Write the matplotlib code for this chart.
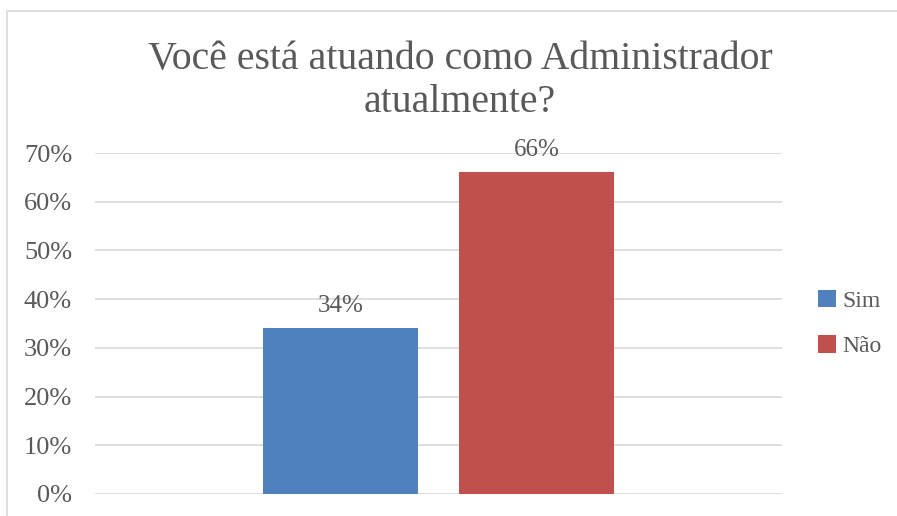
import matplotlib
matplotlib.use("Agg")
import matplotlib.pyplot as plt
from matplotlib.patches import Rectangle, Patch
from matplotlib.ticker import FuncFormatter, MultipleLocator

title = "Você está atuando como Administrador\natualmente?"
series = ["Sim", "Não"]
values = [0.34, 0.66]
colors = ["#4F81BD", "#C0504D"]
positions = [0.357, 0.643]

FONT = "Liberation Serif"
TXT = "#595959"
W, H = 897, 516
fig = plt.figure(figsize=(W / 100, H / 100), dpi=100)

# chart border (cropped on right/bottom)
fig.patches.append(Rectangle((7 / W, -0.1), 2.0, (H - 11) / H + 0.1,
                             transform=fig.transFigure, fill=False,
                             edgecolor="#D9D9D9", linewidth=1.2))

ax = fig.add_axes([95 / W, 22 / H, 687 / W, (494 - 153) / H])
for p, v, c, s in zip(positions, values, colors, series):
    ax.bar(p, v, width=0.2256, color=c, label=s, zorder=3)
    ax.annotate(f"{round(v * 100)}%", (p, v), xytext=(0, 16), textcoords="offset points",
                ha="center", va="center", fontsize=18, color=TXT, family=FONT)

ax.set_xlim(0, 1)
ax.set_ylim(0, 0.70)
ax.yaxis.set_major_locator(MultipleLocator(0.1))
ax.yaxis.set_major_formatter(FuncFormatter(lambda y, _: f"{round(y * 100)}%"))
ax.grid(axis="y", color="#D9D9D9", linewidth=1.2, zorder=0)
ax.set_xticks([])
for sp in ax.spines.values():
    sp.set_visible(False)
ax.tick_params(axis="y", length=0, pad=16.5, labelsize=19, labelcolor=TXT)
for lab in ax.get_yticklabels():
    lab.set_family(FONT)

fig.text(460 / W, 1 - 81 / H, title, ha="center", va="center", fontsize=28.6,
         color=TXT, family=FONT, linespacing=1.2)

handles = [Patch(facecolor=c, label=s) for s, c in zip(series, colors)]
fig.legend(handles=handles, loc="center left", bbox_to_anchor=(818 / W, 1 - 323.5 / H),
           frameon=False, prop={"family": FONT, "size": 17}, labelcolor=TXT,
           handlelength=0.75, handleheight=0.75, handletextpad=0.3, labelspacing=1.0,
           borderpad=0, borderaxespad=0)

fig.savefig("out.png", dpi=100)
